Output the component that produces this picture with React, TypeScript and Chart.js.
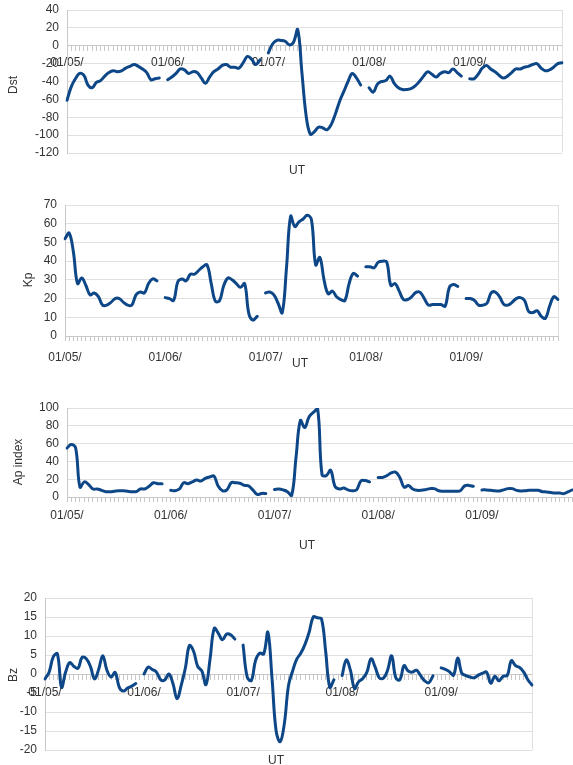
import React, { useEffect, useRef } from 'react';
import { Chart, registerables } from 'chart.js';

Chart.register(...registerables);

// ---------- data ----------
const dayLabels = ['01/05/', '01/06/', '01/07/', '01/08/', '01/09/'];
const HOURS = 24;
const LAST_DAY_HOURS = 23;

const dstValues: (number | null)[] = [
  -61, -46, -37, -31, -33, -44, -47, -41, -39, -34, -30, -28, -29, -28, -25, -23, -21, -23, -26, -30, -38, -37, -36, null,
  -38, -35, -31, -26, -27, -31, -29, -30, -36, -42, -35, -29, -26, -22, -21, -24, -24, -25, -19, -12, -15, -21, -16, null,
  -8, 2, 6, 6, 5, 1, 4, 18, -30, -78, -99, -96, -91, -92, -94, -88, -76, -62, -51, -40, -31, -36, -44, null,
  -47, -52, -43, -40, -39, -34, -42, -47, -49, -49, -48, -45, -40, -34, -29, -32, -35, -31, -29, -30, -26, -30, -34, null,
  -37, -37, -32, -25, -22, -26, -29, -33, -36, -34, -30, -26, -26, -24, -23, -21, -20, -25, -28, -27, -24, -20, -19,
];

const kpValues: (number | null)[] = [
  52, 55, 45, 28, 31, 27, 22, 23, 21, 16.5, 16.5, 18, 20, 20, 18, 16.5, 16.5, 22, 23.5, 23, 28, 30.5, 29.5, null,
  20.5, 20, 19, 29, 30.5, 29.5, 33, 33, 35, 37, 38, 28, 18.5, 19, 27, 31, 30, 28, 26, 28, 12, 8.5, 10.5, null,
  23, 23.5, 22, 17.5, 12.5, 36, 64, 58.5, 61, 62.5, 64.5, 62, 38, 42, 30, 22.5, 24, 21, 19.5, 19, 28, 33.5, 32, null,
  37, 37, 36.5, 39.5, 40, 39.5, 27, 28, 24, 19.5, 19.5, 21, 23.3, 23.3, 20, 16.5, 16.8, 16.8, 16.8, 16, 26, 27.5, 26.5, null,
  20, 20, 19, 16.5, 16.5, 17.5, 23, 23.5, 21, 17, 16.5, 18, 20, 20.5, 19, 13, 12.5, 13.5, 10.5, 9.5, 16, 21, 19.5,
];

const apValues: (number | null)[] = [
  55, 59, 55, 11, 17, 14, 9, 9, 7.5, 6, 6, 6.5, 7, 7, 6.5, 6, 6, 9, 9, 12, 16, 15, 15, null,
  7.5, 7, 9, 16, 15, 17, 19, 18, 21, 22.5, 23.5, 12, 7, 8, 16, 16, 15.5, 13, 12.5, 8, 3, 4, 4, null,
  8.5, 9, 8, 6, 2, 45, 86, 78, 90, 95, 99, 25, 24, 30, 12, 9, 10, 8, 7, 8, 18, 18.5, 17, null,
  22, 22, 24, 27, 28, 22, 11, 13, 9, 7.5, 7.5, 8.3, 9.4, 9.4, 7, 6.5, 6.5, 6.5, 6.5, 7, 12.5, 13, 12, null,
  8, 8, 7.5, 7, 6.8, 8, 9.4, 9.4, 7.5, 6.8, 7, 7.5, 7.5, 7.5, 6, 5.7, 5, 4.5, 4.5, 3.8, 6, 8, 8,
];

const bzValues: (number | null)[] = [
  -1.3, 0.5, 4.5, 5.3, -3.5, 0.5, 3, 2, 1.5, 4.4, 4, 2, -1.3, 1.2, 4.8, 1, -0.8, 0.4, -3.5, -4.5, -3.7, -3.2, -2.5, null,
  0, 1.8, 1.2, 0.5, -1.5, -1.6, 0, -2.5, -6.5, -3, 1.5, 7.5, 6, 2, 0.8, -2.8, 4, 12, 10.7, 9, 10.5, 10.3, 9.2, null,
  7.6, -0.8, -1.7, 3.5, 5.5, 5.3, 11, -1, -15, -17.8, -13, -3, 0.8, 3.9, 5.5, 7.8, 11, 15, 14.8, 14.5, 6, -3.5, -1.5, null,
  -0.4, 3.7, 1, -3.8, -2, -1.2, 0.5, 4, 1.8, -1, -1.1, 1, 4.8, -1, -1.5, 2.2, 0.8, 0.5, 1, -0.4, -1.8, -2.3, -0.5, null,
  1.6, 1.2, 0.6, -0.3, 4.2, 0.2, -0.4, -0.8, -1, -0.3, 0.2, 0.5, -2.4, -0.6, -1.8, -0.6, -0.4, 3.5, 2.2, 1.7, 0.5, -1.5, -2.9,
];

const categories: string[] = [];
dayLabels.forEach((d, di) => {
  const n = di === dayLabels.length - 1 ? LAST_DAY_HOURS : HOURS;
  for (let h = 0; h < n; h++) categories.push(`${d} ${String(h).padStart(2, '0')}:00`);
});

// ---------- styling ----------
const FONT = '"Liberation Sans", Arial, Helvetica, sans-serif';
const TEXT = '#333333';
const LINE = '#0d4787';
const GRID = '#e0e0e0';
const AXIS = '#c8c8c8';

type Spec = {
  key: string;
  values: (number | null)[];
  min: number;
  max: number;
  step: number;
  atZero: boolean;
  top: number;
  width: number;
  height: number;
  pad: { top: number; right: number; bottom: number; left: number };
  yWidth: number;
  xHeight?: number;
  xPad: number;
  title: string;
  titleX: number;
  titleY: number;
  utX: number;
  utY: number;
};

const specs: Spec[] = [
  { key: 'dst', values: dstValues, min: -120, max: 40, step: 20, atZero: true, top: 0, width: 573, height: 180,
    pad: { top: 10, right: 11, bottom: 27, left: 0 }, yWidth: 67, xPad: 5, title: 'Dst', titleX: 12.5, titleY: 85, utX: 297, utY: 170 },
  { key: 'kp', values: kpValues, min: 0, max: 70, step: 10, atZero: false, top: 190, width: 573, height: 180,
    pad: { top: 15, right: 15, bottom: 8, left: 0 }, yWidth: 65, xHeight: 26, xPad: 9, title: 'Kp', titleX: 27.5, titleY: 280, utX: 300, utY: 363 },
  { key: 'ap', values: apValues, min: 0, max: 100, step: 20, atZero: false, top: 395, width: 605, height: 160,
    pad: { top: 13, right: 28, bottom: 32, left: 0 }, yWidth: 67, xHeight: 26, xPad: 6, title: 'Ap index', titleX: 18, titleY: 462, utX: 307, utY: 545 },
  { key: 'bz', values: bzValues, min: -20, max: 20, step: 5, atZero: true, top: 585, width: 573, height: 180,
    pad: { top: 13, right: 41, bottom: 15, left: 0 }, yWidth: 45, xPad: 6, title: 'Bz', titleX: 12.8, titleY: 675, utX: 276, utY: 760 },
];

const rightBorder = {
  id: 'rightBorder',
  beforeDatasetsDraw(chart: any) {
    const { ctx, chartArea: a } = chart;
    ctx.save();
    ctx.strokeStyle = GRID;
    ctx.lineWidth = 1;
    const x = Math.round(a.right) + 0.5;
    ctx.beginPath();
    ctx.moveTo(x, a.top);
    ctx.lineTo(x, a.bottom);
    ctx.stroke();
    ctx.restore();
  },
};

function buildConfig(s: Spec): any {
  return {
    type: 'line',
    data: {
      labels: categories,
      datasets: [
        {
          data: s.values,
          borderColor: LINE,
          borderWidth: 3,
          pointRadius: 0,
          pointHoverRadius: 0,
          tension: 0.4,
          fill: false,
          spanGaps: false,
          borderCapStyle: 'round',
          borderJoinStyle: 'round',
        },
      ],
    },
    options: {
      responsive: false,
      animation: false,
      events: [],
      layout: { padding: s.pad },
      plugins: { legend: { display: false }, tooltip: { enabled: false }, title: { display: false } },
      scales: {
        x: {
          type: 'category',
          position: s.atZero ? { y: 0 } : 'bottom',
          grid: { display: true, drawOnChartArea: false, drawTicks: true, tickLength: 5, color: AXIS },
          border: { display: true, color: AXIS },
          ticks: {
            autoSkip: false,
            maxRotation: 0,
            minRotation: 0,
            padding: s.xPad,
            color: TEXT,
            font: { family: FONT, size: 12 },
            callback: (_v: any, index: number) => (index % HOURS === 0 ? dayLabels[index / HOURS] : ''),
          },
          afterFit: (scale: any) => {
            if (s.xHeight !== undefined) scale.height = s.xHeight;
          },
        },
        y: {
          min: s.min,
          max: s.max,
          grid: { color: GRID, drawTicks: true, tickLength: 6, tickColor: 'rgba(0,0,0,0)' },
          border: { display: true, color: AXIS },
          ticks: { stepSize: s.step, autoSkip: false, padding: 2, color: TEXT, font: { family: FONT, size: 12 } },
          afterFit: (scale: any) => {
            scale.width = s.yWidth;
          },
        },
      },
    },
    plugins: [rightBorder],
  };
}

function Panel({ spec }: { spec: Spec }) {
  const ref = useRef<HTMLCanvasElement | null>(null);
  useEffect(() => {
    if (!ref.current) return;
    const chart = new Chart(ref.current, buildConfig(spec));
    return () => chart.destroy();
  }, [spec]);
  return (
    <canvas
      ref={ref}
      width={spec.width}
      height={spec.height}
      style={{ position: 'absolute', left: 0, top: spec.top, width: spec.width, height: spec.height }}
    />
  );
}

const textStyle: React.CSSProperties = {
  position: 'absolute',
  fontFamily: FONT,
  fontSize: 12,
  lineHeight: '14px',
  color: TEXT,
  whiteSpace: 'nowrap',
};

export default function App() {
  return (
    <div
      style={{
        position: 'absolute',
        left: 0,
        top: 0,
        width: 573,
        height: 765,
        overflow: 'hidden',
        background: '#ffffff',
      }}
    >
      {specs.map((s) => (
        <Panel key={s.key} spec={s} />
      ))}
      {specs.map((s) => (
        <div
          key={s.key + '-t'}
          style={{ ...textStyle, left: s.titleX, top: s.titleY, transform: 'translate(-50%, -50%) rotate(-90deg)' }}
        >
          {s.title}
        </div>
      ))}
      {specs.map((s) => (
        <div key={s.key + '-u'} style={{ ...textStyle, left: s.utX, top: s.utY, transform: 'translate(-50%, -50%)' }}>
          UT
        </div>
      ))}
    </div>
  );
}
